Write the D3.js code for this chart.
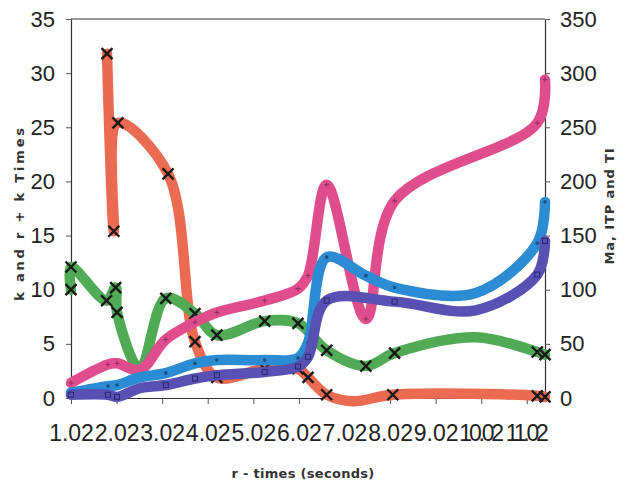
<!DOCTYPE html>
<html>
<head>
<meta charset="utf-8">
<script src="https://cdn.jsdelivr.net/npm/d3@7/dist/d3.min.js"></script>
<style>
  body { margin: 0; background: #fff; }
  svg { display: block; }
</style>
</head>
<body>
<svg id="chart" width="628" height="487"></svg>
<script>
// Axis ticks
const timeTicks = [1.02, 2.02, 3.02, 4.02, 5.02, 6.02, 7.02, 8.02, 9.02, 10.02, 11.02];
const kTicks = [0, 5, 10, 15, 20, 25, 30, 35];
const maTicks = [0, 50, 100, 150, 200, 250, 300, 350];

// k (left axis)
const kTime = [1.81, 1.96, 2.05, 3.15, 3.74, 4.22, 5.27, 6.0, 6.22, 6.63, 7.2, 8.08, 11.25, 11.42];
const kValue = [31.8, 15.4, 25.4, 20.7, 5.2, 1.9, 2.7, 2.7, 1.9, 0.3, -0.3, 0.3, 0.2, 0.1];

// r + k times (left axis)
const rkTime = [1.02, 1.02, 1.8, 2.0, 2.03, 2.53, 3.1, 3.74, 4.22, 5.27, 6.0, 6.63, 7.49, 8.12, 9.9, 11.25, 11.42];
const rkValue = [10.0, 12.1, 9.0, 10.2, 7.9, 2.7, 9.2, 7.8, 5.8, 7.1, 6.9, 4.4, 2.95, 4.15, 5.6, 4.25, 4.0];

// Ma (right axis)
const maTime = [1.02, 1.83, 2.03, 2.53, 3.1, 3.74, 4.22, 5.27, 6.0, 6.22, 6.63, 7.49, 8.12, 11.25, 11.42];
const maValue = [14, 31, 32, 26, 54, 70, 79, 90, 101, 113, 197, 73, 182, 254, 294];

// ITP (right axis)
const itpTime = [1.02, 1.83, 2.03, 2.53, 3.1, 3.74, 4.22, 5.27, 6.0, 6.22, 6.63, 7.49, 8.12, 9.9, 11.25, 11.42];
const itpValue = [5, 11, 12, 19, 23, 32, 35, 35, 37, 51, 130, 113, 102, 97, 143, 181];

// TI (right axis)
const tiTime = [1.02, 1.83, 2.03, 2.53, 3.1, 3.74, 4.22, 5.27, 6.0, 6.22, 6.63, 8.12, 9.9, 11.25, 11.42];
const tiValue = [3, 3, 1, 9, 12, 18, 21, 24, 29, 38, 90, 89, 81, 114, 145];

// Knots that only shape the curve and carry no sample marker
const unmarkedTimes = [2.53, 7.2, 9.9];

const series = [
  { time: kTime,   value: kValue,   axis: "left",  color: "#eb6a52", marker: "x" },
  { time: rkTime,  value: rkValue,  axis: "left",  color: "#50aa56", marker: "x" },
  { time: maTime,  value: maValue,  axis: "right", color: "#df4d8d", marker: "plus" },
  { time: itpTime, value: itpValue, axis: "right", color: "#2b8cd4", marker: "dot" },
  { time: tiTime,  value: tiValue,  axis: "right", color: "#5850b2", marker: "square" }
];

const svg = d3.select("#chart");
const plotLeft = 71, plotRight = 545, plotTop = 19, plotBottom = 398;

const x = d3.scaleLinear().domain([1.02, 11.42]).range([plotLeft, plotRight]);
const yLeft = d3.scaleLinear().domain([0, 35]).range([plotBottom, plotTop]);
const yRight = d3.scaleLinear().domain([0, 350]).range([plotBottom, plotTop]);

const tickFont = "'Liberation Sans', Arial, Helvetica, sans-serif";
const titleFont = "'DejaVu Sans', Verdana, sans-serif";

// Frame top edge
svg.append("line")
  .attr("x1", plotLeft).attr("x2", plotRight).attr("y1", plotTop).attr("y2", plotTop)
  .attr("stroke", "#333").attr("stroke-width", 1.2);

// Axes
const gL = svg.append("g").attr("transform", `translate(${plotLeft},0)`)
  .call(d3.axisLeft(yLeft).tickValues(kTicks).tickSize(5).tickSizeOuter(0).tickPadding(11));
const gR = svg.append("g").attr("transform", `translate(${plotRight},0)`)
  .call(d3.axisRight(yRight).tickValues(maTicks).tickSize(5).tickSizeOuter(0).tickPadding(10));
const gB = svg.append("g").attr("transform", `translate(0,${plotBottom})`)
  .call(d3.axisBottom(x).tickValues(timeTicks).tickFormat(d3.format(".2f")).tickSize(6).tickSizeOuter(0).tickPadding(21));

[gL, gR, gB].forEach(g => {
  g.selectAll("path.domain").attr("stroke", "#333").attr("stroke-width", 1.2);
  g.selectAll(".tick line").attr("stroke", "#555");
  g.selectAll("text").attr("fill", "#222").style("font-family", tickFont);
});
gL.selectAll("text").style("font-size", "22px");
gR.selectAll("text").style("font-size", "22px");
// Time labels sit tightly side by side; the five-character ones get tighter spacing
gB.selectAll("text")
  .style("font-size", "23px")
  .each(function () {
    const el = d3.select(this);
    if (el.text().length > 4) {
      el.style("letter-spacing", "-3.2px").attr("dx", "-1.6");
    }
  });

// Axis titles
svg.append("text")
  .attr("transform", "translate(24,213) rotate(-90)")
  .attr("text-anchor", "middle")
  .style("font-family", titleFont).style("font-weight", "bold")
  .style("font-size", "13px").style("letter-spacing", "2.8px")
  .attr("fill", "#333")
  .text("k and r + k Times");

svg.append("text")
  .attr("transform", "translate(614,206) rotate(-90)")
  .attr("text-anchor", "middle")
  .style("font-family", titleFont).style("font-weight", "bold")
  .style("font-size", "13px").style("letter-spacing", "0.9px")
  .attr("fill", "#333")
  .text("Ma, ITP and TI");

svg.append("text")
  .attr("x", 303).attr("y", 478)
  .attr("text-anchor", "middle")
  .style("font-family", titleFont).style("font-weight", "bold")
  .style("font-size", "13px").style("letter-spacing", "0.3px")
  .attr("fill", "#333")
  .text("r - times (seconds)");

// Smoothed series with sample markers
const plot = svg.append("g");
series.forEach(s => {
  const yScale = s.axis === "left" ? yLeft : yRight;
  const pts = s.time.map((t, i) => [t, s.value[i]]);
  const line = d3.line()
    .x(d => x(d[0])).y(d => yScale(d[1]))
    .curve(d3.curveCatmullRom.alpha(0.5));

  plot.append("path")
    .datum(pts)
    .attr("d", line)
    .attr("fill", "none")
    .attr("stroke", s.color)
    .attr("stroke-width", 10.5)
    .attr("stroke-linecap", "round")
    .attr("stroke-linejoin", "round");

  const marked = pts.filter(d => !unmarkedTimes.includes(d[0]));
  const g = plot.append("g");
  marked.forEach(d => {
    const px = x(d[0]), py = yScale(d[1]);
    if (s.marker === "x") {
      const r = 5.5;
      g.append("path")
        .attr("d", `M${px - r},${py - r}L${px + r},${py + r}M${px - r},${py + r}L${px + r},${py - r}`)
        .attr("stroke", "#1a1a1a").attr("stroke-width", 2.4).attr("fill", "none");
    } else if (s.marker === "plus") {
      const r = 2.5;
      g.append("path")
        .attr("d", `M${px - r},${py}L${px + r},${py}M${px},${py - r}L${px},${py + r}`)
        .attr("stroke", "#8e2f60").attr("stroke-width", 1).attr("fill", "none");
    } else if (s.marker === "dot") {
      g.append("circle")
        .attr("cx", px).attr("cy", py).attr("r", 1.8)
        .attr("fill", "#1d4f7e");
    } else {
      g.append("rect")
        .attr("x", px - 2.5).attr("y", py - 2.5).attr("width", 5).attr("height", 5)
        .attr("fill", "none").attr("stroke", "#2a2870").attr("stroke-width", 1);
    }
  });
});
</script>
</body>
</html>
